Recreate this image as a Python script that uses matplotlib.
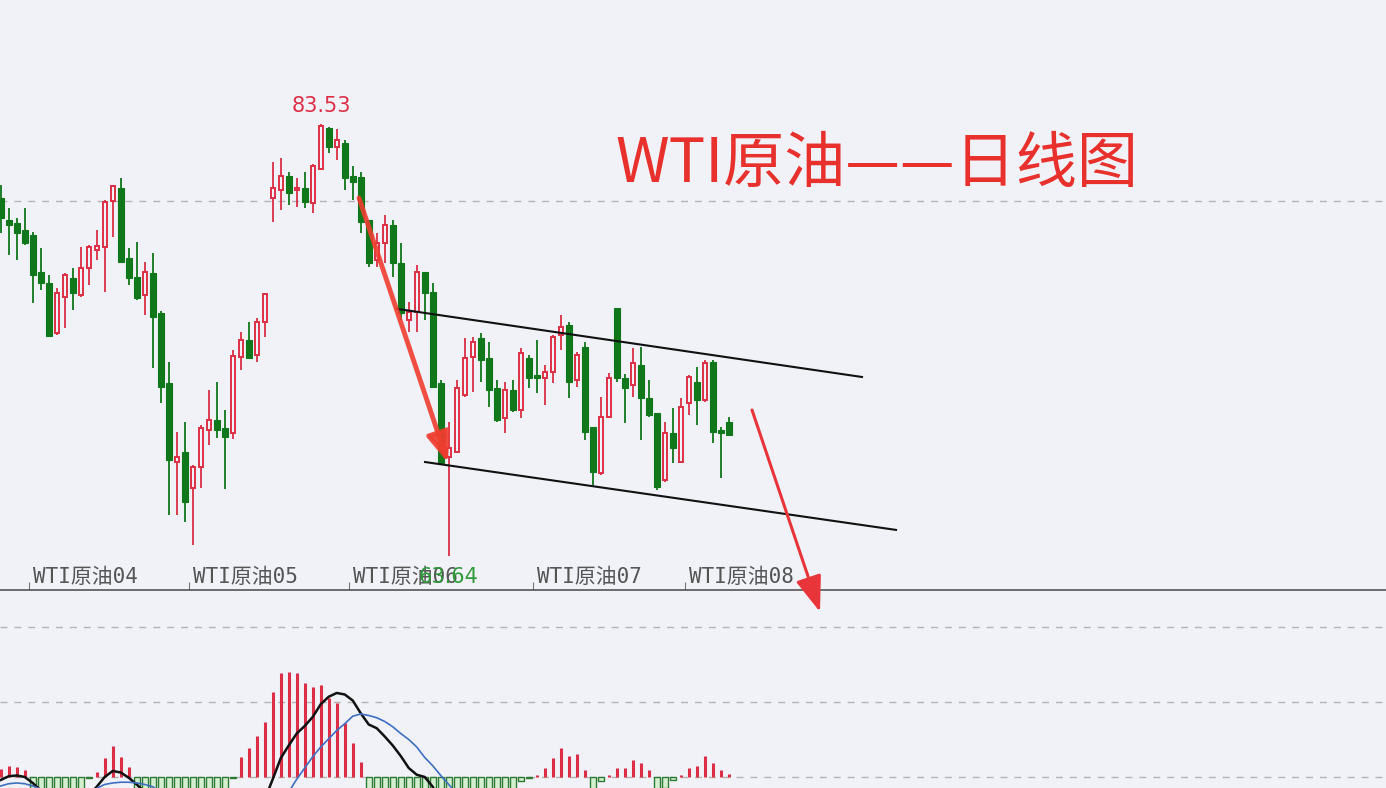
import numpy as np
import matplotlib.pyplot as plt
import matplotlib.transforms as mtransforms

# Fonts: CJK first so the Chinese title renders, DejaVu as fallback
plt.rcParams['font.family'] = ['Noto Sans CJK SC', 'DejaVu Sans']

# ---- daily candles ----
opens = [80.12, 79.11, 78.97, 78.65, 78.42, 76.71, 76.20, 73.90, 75.56, 76.43,
         75.65, 76.90, 77.72, 77.86, 79.98, 80.58, 77.36, 76.48, 75.65, 76.66,
         74.82, 71.59, 67.95, 68.41, 66.75, 67.72, 69.43, 69.89, 69.52, 69.29,
         72.79, 73.58, 72.88, 74.41, 80.12, 80.49, 81.14, 80.49, 80.58, 79.89,
         81.46, 83.35, 82.47, 82.66, 81.14, 81.09, 79.11, 77.26, 78.05, 78.88,
         77.13, 74.50, 74.87, 76.71, 75.79, 71.59, 68.18, 68.41, 71.04, 72.79,
         73.67, 72.75, 71.36, 69.98, 71.27, 70.35, 72.75, 71.96, 71.82, 72.10,
         73.81, 74.27, 71.73, 73.25, 69.57, 67.44, 70.03, 75.05, 71.82, 71.50,
         72.42, 70.90, 70.21, 67.12, 69.29, 67.95, 70.67, 71.64, 70.81, 72.56,
         69.43, 69.80]
highs = [80.72, 79.66, 79.20, 79.66, 78.55, 77.82, 76.57, 75.97, 76.66, 76.90,
         77.86, 77.96, 78.65, 80.03, 80.72, 81.04, 77.82, 78.09, 77.17, 77.59,
         74.90, 72.56, 69.33, 69.80, 67.81, 69.66, 71.27, 71.64, 70.35, 73.11,
         73.94, 74.41, 74.59, 75.74, 81.78, 81.97, 81.32, 81.04, 81.32, 81.69,
         83.53, 83.40, 83.28, 82.80, 81.60, 81.32, 79.11, 78.51, 79.34, 79.11,
         78.05, 75.33, 77.03, 76.71, 76.20, 71.73, 69.80, 71.73, 73.66, 73.71,
         73.90, 73.48, 71.73, 71.64, 71.73, 73.21, 72.88, 73.58, 72.42, 73.81,
         74.73, 74.41, 73.02, 73.48, 69.57, 70.95, 72.05, 75.05, 72.00, 73.21,
         73.25, 71.73, 70.21, 69.80, 70.44, 70.90, 71.96, 72.33, 72.65, 72.65,
         69.57, 70.03]
lows = [78.51, 77.49, 77.26, 77.96, 75.28, 75.88, 73.71, 73.81, 74.13, 74.96,
        75.56, 76.11, 77.26, 75.79, 78.32, 77.13, 76.11, 75.42, 74.73, 72.29,
        70.67, 65.51, 65.51, 65.19, 64.13, 66.75, 68.74, 69.06, 66.71, 69.01,
        72.19, 72.75, 72.56, 73.71, 79.02, 79.57, 79.80, 79.71, 79.66, 79.43,
        81.41, 82.20, 81.87, 80.49, 80.03, 78.51, 76.94, 76.94, 77.13, 76.48,
        74.50, 73.94, 73.94, 74.50, 71.36, 67.91, 63.64, 68.37, 70.95, 71.18,
        71.64, 70.49, 69.80, 69.29, 70.26, 69.98, 71.36, 71.13, 70.58, 71.59,
        73.11, 70.90, 71.41, 68.97, 66.89, 67.36, 69.98, 71.64, 69.75, 70.95,
        68.97, 70.03, 66.66, 67.03, 67.91, 67.91, 70.12, 69.66, 70.72, 68.83,
        67.21, 69.20]
closes = [79.20, 78.88, 78.51, 78.05, 76.57, 76.20, 73.76, 75.74, 76.57, 75.74,
          76.90, 77.86, 77.91, 79.94, 80.68, 77.17, 76.43, 75.51, 76.71, 74.64,
          71.41, 68.04, 68.18, 66.11, 67.72, 69.52, 69.89, 69.43, 69.10, 72.84,
          73.58, 72.75, 74.41, 75.70, 80.58, 81.14, 80.35, 80.58, 79.94, 81.60,
          83.44, 82.47, 82.80, 81.04, 80.86, 79.02, 77.13, 78.05, 78.88, 77.13,
          74.82, 74.87, 76.71, 75.74, 71.41, 67.91, 68.60, 71.36, 72.75, 73.48,
          72.65, 71.27, 69.89, 71.27, 70.35, 72.98, 71.82, 71.82, 72.10, 73.71,
          74.18, 71.64, 72.88, 69.33, 67.49, 70.03, 71.82, 71.82, 71.36, 72.52,
          70.90, 70.12, 66.80, 69.29, 68.60, 70.49, 71.87, 70.81, 72.52, 69.33,
          69.29, 69.20]

# ---- MACD panel ----
macd_hist = [0.10, 0.15, 0.13, 0.09, -0.30, -0.45, -0.60, -0.70, -0.60, -0.50,
             -0.40, -0.02, 0.07, 0.25, 0.41, 0.27, 0.13, -0.20, -0.30, -0.45,
             -0.80, -1.30, -1.60, -1.60, -1.50, -1.20, -0.80, -0.50, -0.20, -0.02,
             0.27, 0.39, 0.55, 0.73, 1.13, 1.39, 1.40, 1.39, 1.25, 1.20,
             1.23, 1.05, 0.99, 0.72, 0.45, 0.20, -0.24, -0.30, -0.40, -0.50,
             -0.60, -0.75, -0.74, -0.52, -0.56, -0.75, -0.90, -0.86, -0.74, -0.60,
             -0.48, -0.48, -0.40, -0.30, -0.20, -0.06, -0.01, 0.03, 0.12, 0.25,
             0.39, 0.28, 0.31, 0.09, -0.20, -0.05, 0.03, 0.12, 0.12, 0.23,
             0.19, 0.09, -0.20, -0.15, -0.04, 0.03, 0.12, 0.15, 0.28, 0.19,
             0.09, 0.04]
macd_dif = [-0.04, 0.01, 0.02, 0.00, -0.08, -0.18, -0.35, -0.42, -0.45, -0.44,
            -0.38, -0.25, -0.13, 0.00, 0.08, 0.06, -0.01, -0.10, -0.20, -0.35,
            -0.60, -1.00, -1.30, -1.50, -1.60, -1.60, -1.50, -1.40, -1.30, -1.10,
            -0.90, -0.75, -0.55, -0.30, -0.03, 0.25, 0.42, 0.58, 0.68, 0.80,
            0.97, 1.07, 1.12, 1.10, 1.02, 0.85, 0.70, 0.65, 0.54, 0.42,
            0.28, 0.12, 0.03, 0.00, -0.13, -0.35, -0.55, -0.65, -0.72, -0.75,
            -0.76, -0.78, -0.82, -0.84, -0.85, -0.82, -0.80, -0.78, -0.72, -0.65,
            -0.55, -0.55, -0.52, -0.58, -0.70, -0.72, -0.68, -0.62, -0.62, -0.58,
            -0.60, -0.64, -0.75, -0.76, -0.76, -0.72, -0.68, -0.66, -0.60, -0.63,
            -0.66, -0.66]
macd_dea = [-0.12, -0.09, -0.08, -0.09, -0.12, -0.16, -0.22, -0.28, -0.32, -0.35,
            -0.34, -0.25, -0.15, -0.10, -0.08, -0.07, -0.07, -0.08, -0.10, -0.13,
            -0.20, -0.35, -0.50, -0.70, -0.85, -1.00, -1.10, -1.15, -1.20, -1.18,
            -1.12, -1.00, -0.90, -0.75, -0.60, -0.40, -0.20, -0.03, 0.12, 0.27,
            0.40, 0.51, 0.62, 0.71, 0.81, 0.84, 0.82, 0.79, 0.74, 0.67,
            0.58, 0.50, 0.40, 0.26, 0.15, 0.02, -0.10, -0.22, -0.35, -0.45,
            -0.52, -0.58, -0.63, -0.68, -0.72, -0.74, -0.76, -0.79, -0.78, -0.77,
            -0.74, -0.70, -0.67, -0.63, -0.63, -0.65, -0.66, -0.67, -0.67, -0.68,
            -0.68, -0.68, -0.70, -0.72, -0.73, -0.73, -0.73, -0.72, -0.70, -0.69,
            -0.69, -0.69]

# x-axis markers (bar index) and their labels
tick_pos = [3.5, 23.5, 43.5, 66.5, 85.5]
tick_labels = ['WTI原油04', 'WTI原油05', 'WTI原油06', 'WTI原油07', 'WTI原油08']

# hand-drawn channel and arrows, in (bar index, price)
channel_top = ([49.54, 107.66], [75.01, 71.87])
channel_bottom = ([53.04, 111.91], [67.95, 64.82])
arrow_down_1 = ((44.79, 80.12), (55.91, 67.91))
arrow_down_2 = ((93.91, 70.35), (102.41, 61.04))

BG = '#f0f2f8'
UP = '#dc2f45'
DOWN = '#10781a'
GRID = '#b4b4b4'

fig = plt.figure(figsize=(13.86, 7.88), dpi=100, facecolor=BG)
ax = fig.add_axes([0, 198 / 788, 1, 590 / 788], facecolor='none')
ax2 = fig.add_axes([0, 0, 1, 198 / 788], facecolor='none', sharex=ax)

o = np.array(opens)
h = np.array(highs)
l = np.array(lows)
c = np.array(closes)
x = np.arange(len(o))
up = c >= o

# Wicks first, then bodies on top (up candles are hollow)
ax.vlines(x[up], l[up], h[up], color=UP, lw=1.3, zorder=2)
ax.vlines(x[~up], l[~up], h[~up], color=DOWN, lw=1.3, zorder=2)
body_lo = np.minimum(o, c)
body_h = np.maximum(np.abs(c - o), 0.08)
ax.bar(x[up], body_h[up], bottom=body_lo[up], width=0.52,
       facecolor=BG, edgecolor=UP, lw=1.4, zorder=3)
ax.bar(x[~up], body_h[~up], bottom=body_lo[~up], width=0.7,
       color=DOWN, edgecolor=DOWN, lw=0.8, zorder=3)

ax.set_xlim(-0.09, 173.16)
ax.set_ylim(62.05, 89.25)
ax.axhline(80, color=GRID, lw=1, ls=(0, (5, 5)), zorder=1)

# Channel lines
ax.plot(*channel_top, color='#111111', lw=1.5, zorder=4)
ax.plot(*channel_bottom, color='#111111', lw=1.5, zorder=4)

# Red arrows
a1 = ax.annotate('', xy=arrow_down_1[1], xytext=arrow_down_1[0],
                 arrowprops=dict(arrowstyle='-|>,head_length=0.9,head_width=0.35',
                                 lw=3.5, color='#ef3d2f', alpha=0.9,
                                 shrinkA=0, shrinkB=0, mutation_scale=20),
                 zorder=6)
a2 = ax.annotate('', xy=arrow_down_2[1], xytext=arrow_down_2[0],
                 arrowprops=dict(arrowstyle='-|>,head_length=1.1,head_width=0.4',
                                 lw=2.2, color='#e8353a',
                                 shrinkA=0, shrinkB=0, mutation_scale=20),
                 annotation_clip=False, zorder=6)
a2.arrow_patch.set_clip_on(False)

# Price labels for the extremes
ax.text(40.1, 84.36, '83.53', color=UP, fontsize=15, ha='center', va='center',
        family='DejaVu Sans', zorder=5)
ax.text(56.0, 62.65, '63.64', color='#2f9a3a', fontsize=15, ha='center', va='center',
        family='DejaVu Sans', zorder=5)

# Axis look: only the separator line at the bottom
for side in ['top', 'left', 'right']:
    ax.spines[side].set_visible(False)
ax.spines['bottom'].set_color('#555555')
ax.spines['bottom'].set_linewidth(1.2)
ax.set_yticks([])
ax.set_xticks(tick_pos)
ax.tick_params(axis='x', direction='in', length=6, color='#777777', labelbottom=False)
trans = mtransforms.blended_transform_factory(ax.transData, ax.transAxes)
for pos, lab in zip(tick_pos, tick_labels):
    ax.text(pos + 0.5, 0.022, lab, transform=trans, fontsize=15, color='#555555',
            ha='left', va='center', family=['DejaVu Sans Mono', 'Noto Sans CJK SC'])

# Title
fig.text(615 / 1386, 1 - 165 / 788, 'WTI原油——日线图', fontsize=44, color='#e8302c',
         ha='left', va='center', family=['Noto Sans CJK SC'])

# ---- MACD panel ----
hist = np.array(macd_hist)
pos = hist > 0
ax2.vlines(x[pos], 0, hist[pos], color=UP, lw=2.2, zorder=3)
ax2.bar(x[~pos], hist[~pos], width=0.7, facecolor='#d4eed0', edgecolor='#2d7a34',
        lw=1, zorder=3)
ax2.plot(x, macd_dif, color='#111111', lw=1.8, zorder=4)
ax2.plot(x, macd_dea, color='#3f6fc0', lw=1.2, zorder=4)
for level in [0, 1, 2]:
    ax2.axhline(level, color=GRID, lw=1, ls=(0, (5, 5)), zorder=1)
ax2.set_ylim(-0.147, 2.493)
for side in ax2.spines:
    ax2.spines[side].set_visible(False)
ax2.set_yticks([])
ax2.tick_params(axis='x', length=0, labelbottom=False)

fig.savefig('out.png', dpi=100, facecolor=BG)
